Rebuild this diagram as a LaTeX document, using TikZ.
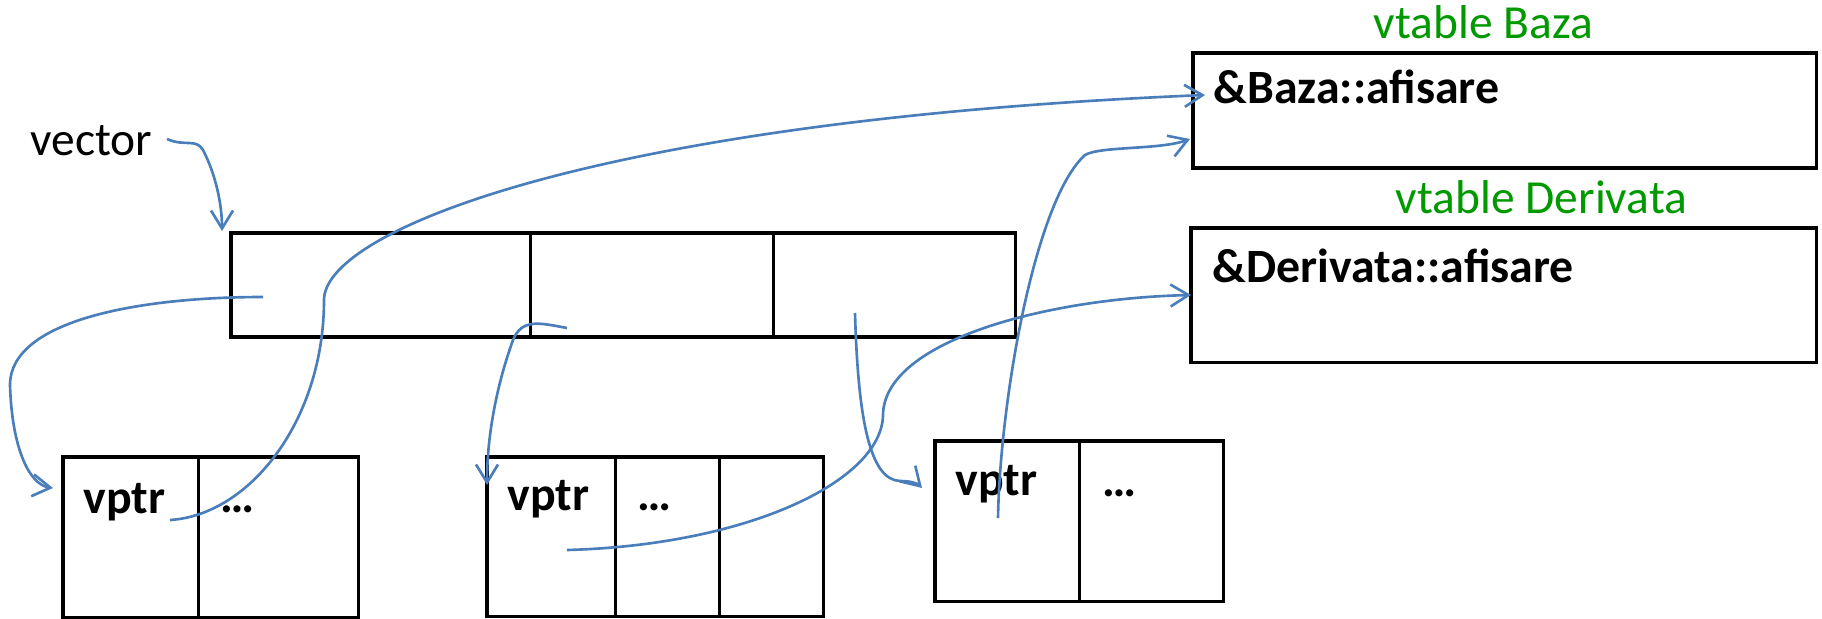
\documentclass[tikz,border=0pt]{standalone}
\usepackage{fontspec}
\setmainfont{Carlito}
\usetikzlibrary{positioning,arrows.meta}
\definecolor{ptrBlue}{RGB}{74,126,187}
\definecolor{tblGreen}{RGB}{0,153,0}
\tikzset{
    base/.style={font=\fontsize{13.5}{16}\selectfont, inner sep=0pt},
    cell/.style={draw, line width=0.9pt, inner sep=0pt, outer sep=0pt},
    slot/.style={base, font=\fontsize{13.6}{16}\selectfont\bfseries, anchor=base west},
    tbltitle/.style={base, text=tblGreen, anchor=base west},
    ptr/.style={-{Straight Barb[length=1.8mm,width=2.2mm]}, line width=0.75pt, color=ptrBlue}
}
\begin{document}
\begin{tikzpicture}[x=0.01cm, y=-0.01cm]
  \useasboundingbox (0,0) rectangle (1822,618);

  % The vector of pointers
  \node[base, anchor=base west] (vec) at (30,155) {vector};
  \node[cell, minimum width=2.99cm, minimum height=1.04cm, anchor=north west] (v1) at (231,233) {};
  \node[cell, minimum width=2.43cm, minimum height=1.04cm, right=0pt of v1] (v2) {};
  \node[cell, minimum width=2.42cm, minimum height=1.04cm, right=0pt of v2] (v3) {};

  % Objects
  \node[cell, minimum width=1.35cm, minimum height=1.60cm, anchor=north west] (o1a) at (63,457) {};
  \node[cell, minimum width=1.60cm, minimum height=1.60cm, right=0pt of o1a] (o1b) {};
  \node[cell, minimum width=1.28cm, minimum height=1.59cm, anchor=north west] (o2a) at (487,457) {};
  \node[cell, minimum width=1.04cm, minimum height=1.59cm, right=0pt of o2a] (o2b) {};
  \node[cell, minimum width=1.04cm, minimum height=1.59cm, right=0pt of o2b] (o2c) {};
  \node[cell, minimum width=1.44cm, minimum height=1.60cm, anchor=north west] (o3a) at (935,441) {};
  \node[cell, minimum width=1.44cm, minimum height=1.60cm, right=0pt of o3a] (o3b) {};

  \node[slot] (vp1) at (83,513) {vptr};
  \node[slot] (dt1) at (220,512) {…};
  \node[slot] (vp2) at (507,510) {vptr};
  \node[slot] (dt2) at (637,510) {…};
  \node[slot] (vp3) at (955,495) {vptr};
  \node[slot] (dt3) at (1102,496) {…};

  % Virtual tables
  \node[cell, minimum width=6.23cm, minimum height=1.15cm, anchor=north west] (bvt) at (1193,53) {};
  \node[cell, minimum width=6.25cm, minimum height=1.34cm, anchor=north west] (dvt) at (1191,228) {};
  \node[tbltitle] (bname) at (1373,38) {vtable Baza};
  \node[tbltitle] (dname) at (1395,213) {vtable Derivata};
  \node[slot] (bfun) at (1213,103) {\&Baza::afisare};
  \node[slot] (dfun) at (1212,282) {\&Derivata::afisare};

  % Pointer ends
  \coordinate (s0) at (167,139);
  \coordinate (s1) at (263,297);
  \coordinate (s2) at (567,328);
  \coordinate (s3) at (855,313);
  \coordinate (q1) at (170,520);
  \coordinate (q2) at (567,550);
  \coordinate (q3) at (998,518);
  \coordinate (t0) at (222,231);
  \coordinate (t1) at (53,488);
  \coordinate (t2) at (487,485);
  \coordinate (t3) at (922,488);
  \coordinate (tb) at (1205,95);
  \coordinate (tc) at (1190,139);

  % Arrows
  \draw[ptr] (s0) .. controls (185,147) and (196,138) .. (203,150)
             .. controls (216,175) and (222,205) .. (t0);
  \draw[ptr] (s1) .. controls (140,297) and (10,320) .. (10,385)
             .. controls (12,450) and (30,485) .. (t1);
  \draw[ptr] (s2) .. controls (540,323) and (522,318) .. (513,340)
             .. controls (495,390) and (487,440) .. (t2);
  \draw[ptr] (s3) .. controls (858,420) and (870,480) .. (900,481)
             .. controls (910,481) and (917,483) .. (t3);
  \draw[ptr] (q1) .. controls (250,515) and (324,420) .. (324,300)
             .. controls (324,230) and (600,120) .. (tb);
  \draw[ptr] (q2) .. controls (750,545) and (882,480) .. (883,415)
             .. controls (884,340) and (1050,298) .. (dvt.west);
  \draw[ptr] (q3) .. controls (1000,400) and (1035,200) .. (1085,155)
             .. controls (1100,146) and (1160,150) .. (tc);
\end{tikzpicture}
\end{document}
